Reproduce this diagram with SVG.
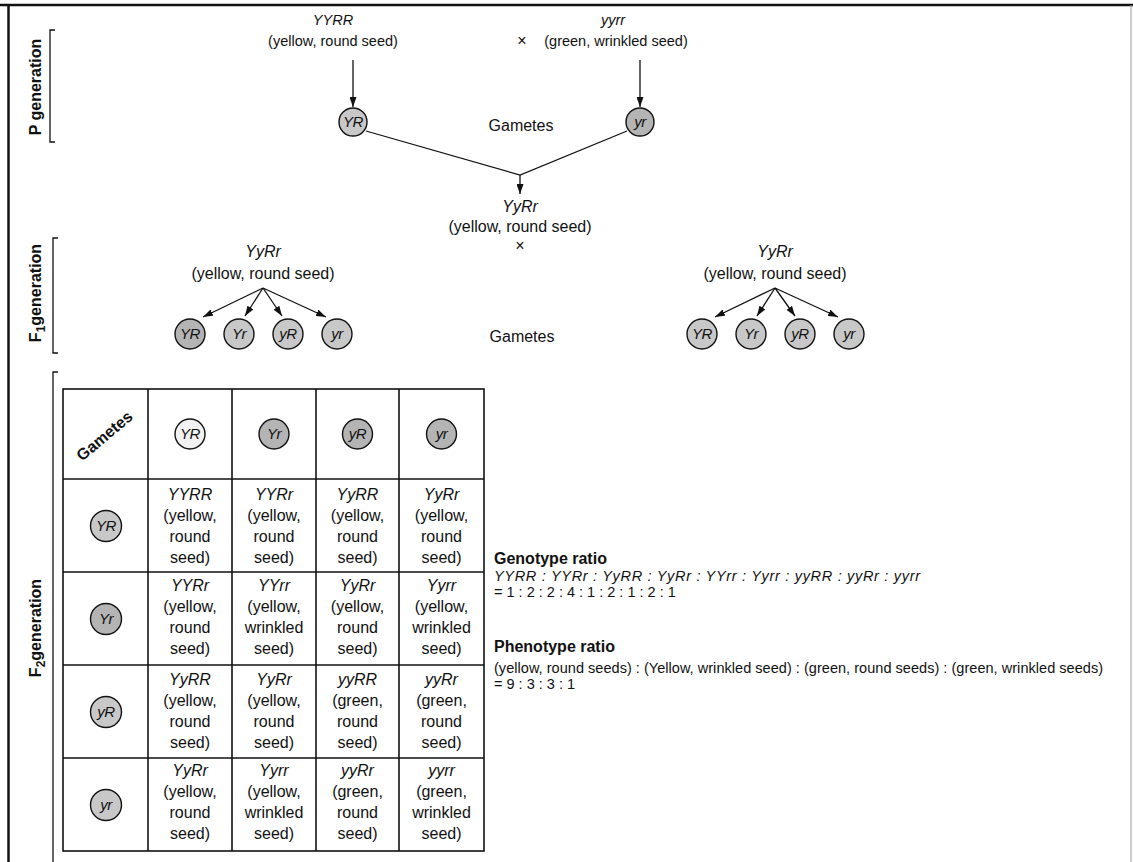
<svg xmlns="http://www.w3.org/2000/svg" width="1133" height="862" viewBox="0 0 1133 862">
<style>
.t{font-family:"Liberation Sans",Arial,sans-serif;fill:#111;font-size:16px}
.it{font-style:italic}
.b{font-weight:bold}
.c{text-anchor:middle}
.gc{stroke:#111;stroke-width:1.4;fill:#c8c8c8}
.gl{stroke:#111;stroke-width:1.4;fill:#f2f2f2}
.gd{stroke:#111;stroke-width:1.4;fill:#b4b4b4}
.ct{font-family:"Liberation Sans",Arial,sans-serif;font-style:italic;font-size:15px;text-anchor:middle;fill:#111;letter-spacing:-0.5px}
.ln{stroke:#111;stroke-width:1.3;fill:none}
.tb{stroke:#111;stroke-width:1.6;fill:none}
.fr{stroke:#111;stroke-width:2.5;fill:none}
.sm{font-size:14.5px}
.tp{font-size:14.5px}
</style>
<defs>
<marker id="ah" markerWidth="10" markerHeight="7" refX="10" refY="3.5" orient="auto" markerUnits="userSpaceOnUse"><path d="M0,0 L10,3.5 L0,7 Z" fill="#111"/></marker>
</defs>
<rect width="1133" height="862" fill="#fff"/>
<g id="frame">
<line class="fr" x1="0" y1="5" x2="1133" y2="5"/>
<line class="fr" x1="8.5" y1="5" x2="8.5" y2="862"/>
<line x1="1131" y1="5" x2="1131" y2="862" stroke="#999" stroke-width="1"/>
</g>
<g id="label-p">
<text class="t b c" font-size="18" transform="translate(41,87) rotate(-90)">P generation</text>
<path class="ln" d="M55,30 H50 V142 H55"/>
</g>
<g id="label-f1">
<text class="t b c" font-size="18" transform="translate(41,293) rotate(-90)">F<tspan font-size="12" dy="4">1</tspan><tspan dy="-4">generation</tspan></text>
<path class="ln" d="M58,238 H53 V353 H58"/>
</g>
<g id="label-f2">
<text class="t b c" font-size="18" transform="translate(41,628) rotate(-90)">F<tspan font-size="12" dy="4">2</tspan><tspan dy="-4">generation</tspan></text>
<path class="ln" d="M58,372 H53 V862"/>
</g>
<g id="connectors">
<line class="ln" x1="353" y1="60" x2="353" y2="107" marker-end="url(#ah)"/>
<line class="ln" x1="640" y1="60" x2="640" y2="107" marker-end="url(#ah)"/>
<polyline class="ln" points="366,131 520,175 627,131"/>
<line class="ln" x1="520" y1="175" x2="520" y2="194" marker-end="url(#ah)"/>
<line class="ln" x1="263" y1="288" x2="203" y2="317" marker-end="url(#ah)"/>
<line class="ln" x1="263" y1="288" x2="245" y2="316" marker-end="url(#ah)"/>
<line class="ln" x1="263" y1="288" x2="282" y2="316" marker-end="url(#ah)"/>
<line class="ln" x1="263" y1="288" x2="326" y2="317" marker-end="url(#ah)"/>
<line class="ln" x1="775" y1="288" x2="715" y2="317" marker-end="url(#ah)"/>
<line class="ln" x1="775" y1="288" x2="757" y2="316" marker-end="url(#ah)"/>
<line class="ln" x1="775" y1="288" x2="795" y2="316" marker-end="url(#ah)"/>
<line class="ln" x1="775" y1="288" x2="838" y2="317" marker-end="url(#ah)"/>
</g>
<g id="parent-dominant">
<text class="t it c tp" x="333" y="25">YYRR</text>
<text class="t c tp" x="333" y="46">(yellow, round seed)</text>
</g>
<g id="cross-p"><text class="t c" x="522" y="46">×</text></g>
<g id="parent-recessive">
<text class="t it c tp" x="613" y="25">yyrr</text>
<text class="t c tp" x="616" y="46">(green, wrinkled seed)</text>
</g>
<g id="p-gamete-YR"><circle class="gc" cx="353" cy="122" r="14"/><text class="ct" x="353" y="127">YR</text></g>
<g id="p-gametes-label"><text class="t c" x="521" y="131">Gametes</text></g>
<g id="p-gamete-yr"><circle class="gd" cx="640" cy="122" r="14"/><text class="ct" x="640" y="127">yr</text></g>
<g id="f1-hybrid">
<text class="t it c" x="520" y="212">YyRr</text>
<text class="t c" x="520" y="232">(yellow, round seed)</text>
<text class="t c" x="520" y="251">×</text>
</g>
<g id="f1-left">
<text class="t it c" x="263" y="257">YyRr</text>
<text class="t c" x="263" y="279">(yellow, round seed)</text>
</g>
<g id="f1-left-YR"><circle class="gd" cx="190" cy="334" r="15"/><text class="ct" x="190" y="339">YR</text></g>
<g id="f1-left-Yr"><circle class="gc" cx="239" cy="334" r="15"/><text class="ct" x="239" y="339">Yr</text></g>
<g id="f1-left-yR"><circle class="gc" cx="288" cy="334" r="15"/><text class="ct" x="288" y="339">yR</text></g>
<g id="f1-left-yr"><circle class="gc" cx="337" cy="334" r="15"/><text class="ct" x="337" y="339">yr</text></g>
<g id="f1-gametes-label"><text class="t c" x="522" y="342">Gametes</text></g>
<g id="f1-right">
<text class="t it c" x="775" y="257">YyRr</text>
<text class="t c" x="775" y="279">(yellow, round seed)</text>
</g>
<g id="f1-right-YR"><circle class="gc" cx="702" cy="334" r="15"/><text class="ct" x="702" y="339">YR</text></g>
<g id="f1-right-Yr"><circle class="gc" cx="751" cy="334" r="15"/><text class="ct" x="751" y="339">Yr</text></g>
<g id="f1-right-yR"><circle class="gc" cx="800" cy="334" r="15"/><text class="ct" x="800" y="339">yR</text></g>
<g id="f1-right-yr"><circle class="gc" cx="849" cy="334" r="15"/><text class="ct" x="849" y="339">yr</text></g>
<g id="punnett-grid">
<rect class="tb" x="63" y="389" width="421" height="462"/>
<line class="tb" x1="148" y1="389" x2="148" y2="851"/>
<line class="tb" x1="232" y1="389" x2="232" y2="851"/>
<line class="tb" x1="316" y1="389" x2="316" y2="851"/>
<line class="tb" x1="399" y1="389" x2="399" y2="851"/>
<line class="tb" x1="63" y1="479" x2="484" y2="479"/>
<line class="tb" x1="63" y1="572" x2="484" y2="572"/>
<line class="tb" x1="63" y1="665" x2="484" y2="665"/>
<line class="tb" x1="63" y1="758" x2="484" y2="758"/>
</g>
<g id="punnett-corner"><text class="t b c" font-size="15" transform="translate(108,440) rotate(-40)">Gametes</text></g>
<g id="col-YR"><circle class="gl" cx="190" cy="434" r="15"/><text class="ct" x="190" y="439">YR</text></g>
<g id="col-Yr"><circle class="gd" cx="274" cy="434" r="15"/><text class="ct" x="274" y="439">Yr</text></g>
<g id="col-yR"><circle class="gd" cx="357.5" cy="434" r="15"/><text class="ct" x="357.5" y="439">yR</text></g>
<g id="col-yr"><circle class="gd" cx="441.5" cy="434" r="15"/><text class="ct" x="441.5" y="439">yr</text></g>
<g id="row-YR"><circle class="gc" cx="106" cy="526" r="15.5"/><text class="ct" x="106" y="531">YR</text></g>
<g id="row-Yr"><circle class="gd" cx="106" cy="619" r="15.5"/><text class="ct" x="106" y="624">Yr</text></g>
<g id="row-yR"><circle class="gc" cx="106" cy="712" r="15.5"/><text class="ct" x="106" y="717">yR</text></g>
<g id="row-yr"><circle class="gc" cx="106" cy="805" r="15.5"/><text class="ct" x="106" y="810">yr</text></g>
<g id="cells" class="t c">
<text x="190" y="500"><tspan class="it" x="190">YYRR</tspan><tspan x="190" dy="21">(yellow,</tspan><tspan x="190" dy="21">round</tspan><tspan x="190" dy="21">seed)</tspan></text>
<text x="274" y="500"><tspan class="it" x="274">YYRr</tspan><tspan x="274" dy="21">(yellow,</tspan><tspan x="274" dy="21">round</tspan><tspan x="274" dy="21">seed)</tspan></text>
<text x="357.5" y="500"><tspan class="it" x="357.5">YyRR</tspan><tspan x="357.5" dy="21">(yellow,</tspan><tspan x="357.5" dy="21">round</tspan><tspan x="357.5" dy="21">seed)</tspan></text>
<text x="441.5" y="500"><tspan class="it" x="441.5">YyRr</tspan><tspan x="441.5" dy="21">(yellow,</tspan><tspan x="441.5" dy="21">round</tspan><tspan x="441.5" dy="21">seed)</tspan></text>
<text x="190" y="591"><tspan class="it" x="190">YYRr</tspan><tspan x="190" dy="21">(yellow,</tspan><tspan x="190" dy="21">round</tspan><tspan x="190" dy="21">seed)</tspan></text>
<text x="274" y="591"><tspan class="it" x="274">YYrr</tspan><tspan x="274" dy="21">(yellow,</tspan><tspan x="274" dy="21">wrinkled</tspan><tspan x="274" dy="21">seed)</tspan></text>
<text x="357.5" y="591"><tspan class="it" x="357.5">YyRr</tspan><tspan x="357.5" dy="21">(yellow,</tspan><tspan x="357.5" dy="21">round</tspan><tspan x="357.5" dy="21">seed)</tspan></text>
<text x="441.5" y="591"><tspan class="it" x="441.5">Yyrr</tspan><tspan x="441.5" dy="21">(yellow,</tspan><tspan x="441.5" dy="21">wrinkled</tspan><tspan x="441.5" dy="21">seed)</tspan></text>
<text x="190" y="685"><tspan class="it" x="190">YyRR</tspan><tspan x="190" dy="21">(yellow,</tspan><tspan x="190" dy="21">round</tspan><tspan x="190" dy="21">seed)</tspan></text>
<text x="274" y="685"><tspan class="it" x="274">YyRr</tspan><tspan x="274" dy="21">(yellow,</tspan><tspan x="274" dy="21">round</tspan><tspan x="274" dy="21">seed)</tspan></text>
<text x="357.5" y="685"><tspan class="it" x="357.5">yyRR</tspan><tspan x="357.5" dy="21">(green,</tspan><tspan x="357.5" dy="21">round</tspan><tspan x="357.5" dy="21">seed)</tspan></text>
<text x="441.5" y="685"><tspan class="it" x="441.5">yyRr</tspan><tspan x="441.5" dy="21">(green,</tspan><tspan x="441.5" dy="21">round</tspan><tspan x="441.5" dy="21">seed)</tspan></text>
<text x="190" y="776"><tspan class="it" x="190">YyRr</tspan><tspan x="190" dy="21">(yellow,</tspan><tspan x="190" dy="21">round</tspan><tspan x="190" dy="21">seed)</tspan></text>
<text x="274" y="776"><tspan class="it" x="274">Yyrr</tspan><tspan x="274" dy="21">(yellow,</tspan><tspan x="274" dy="21">wrinkled</tspan><tspan x="274" dy="21">seed)</tspan></text>
<text x="357.5" y="776"><tspan class="it" x="357.5">yyRr</tspan><tspan x="357.5" dy="21">(green,</tspan><tspan x="357.5" dy="21">round</tspan><tspan x="357.5" dy="21">seed)</tspan></text>
<text x="441.5" y="776"><tspan class="it" x="441.5">yyrr</tspan><tspan x="441.5" dy="21">(green,</tspan><tspan x="441.5" dy="21">wrinkled</tspan><tspan x="441.5" dy="21">seed)</tspan></text>
</g>
<g id="genotype-ratio">
<text class="t b" font-size="15.5" x="494" y="564">Genotype ratio</text>
<text class="t it sm" x="494" y="581" textLength="426" lengthAdjust="spacing">YYRR : YYRr : YyRR : YyRr : YYrr : Yyrr : yyRR : yyRr : yyrr</text>
<text class="t sm" x="494" y="597">= 1 : 2 : 2 : 4 : 1 : 2 : 1 : 2 : 1</text>
</g>
<g id="phenotype-ratio">
<text class="t b" font-size="15.5" x="494" y="652">Phenotype ratio</text>
<text class="t sm" x="494" y="673" textLength="609" lengthAdjust="spacing">(yellow, round seeds) : (Yellow, wrinkled seed) : (green, round seeds) : (green, wrinkled seeds)</text>
<text class="t sm" x="494" y="689">= 9 : 3 : 3 : 1</text>
</g>
</svg>
